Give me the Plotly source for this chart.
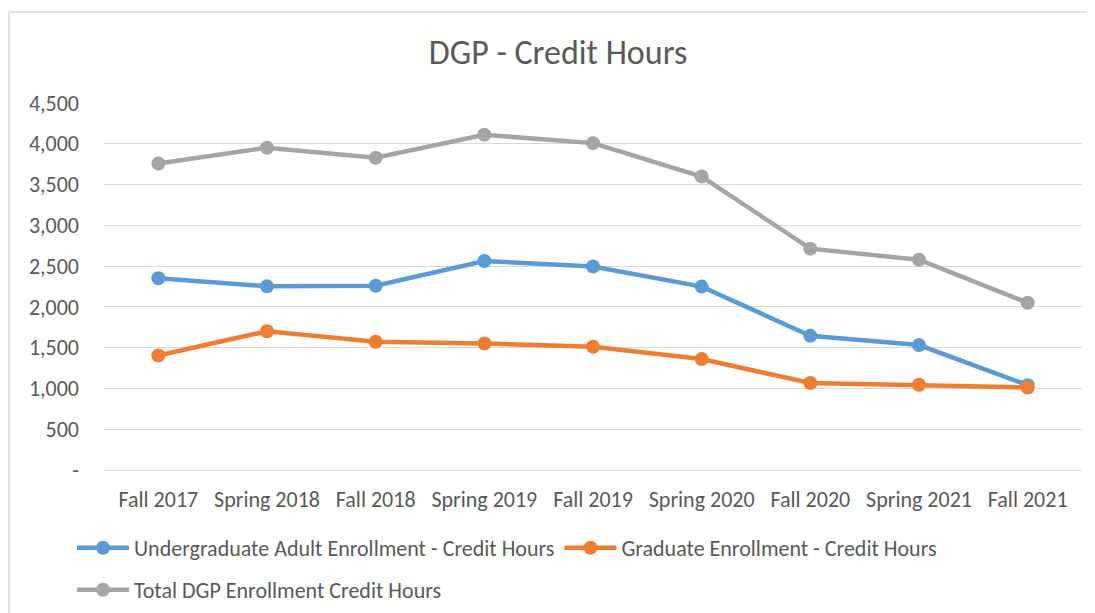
import plotly.graph_objects as go

# 学期
terms = ["Fall 2017", "Spring 2018", "Fall 2018", "Spring 2019", "Fall 2019",
         "Spring 2020", "Fall 2020", "Spring 2021", "Fall 2021"]

# 学时数据
undergrad = [2352, 2252, 2260, 2562, 2495, 2249, 1645, 1532, 1040]
graduate = [1404, 1702, 1572, 1552, 1512, 1360, 1066, 1045, 1011]
total = [3758, 3952, 3828, 4110, 4008, 3598, 2714, 2578, 2050]

series_names = ["Undergraduate Adult Enrollment - Credit Hours",
                "Graduate Enrollment - Credit Hours",
                "Total DGP Enrollment Credit Hours"]

y_tickvals = [0, 500, 1000, 1500, 2000, 2500, 3000, 3500, 4000, 4500]
y_ticktext = ["-", "500", "1,000", "1,500", "2,000", "2,500", "3,000", "3,500", "4,000", "4,500"]

FONT = "Carlito, Lato, sans-serif"
TEXT_COLOR = "#595959"
GRID = "#D9D9D9"

# 页面 body 默认有 8px 边距，所有位置按页面像素换算
OFF = 8
W, H = 1095 - OFF, 613 - OFF
# 绘图区在页面上的位置
PX_L, PX_R, PX_T, PX_B = 104, 1082, 103, 470
L, T = PX_L - OFF, PX_T - OFF
R, B = W - (PX_R - OFF), H - (PX_B - OFF)
pw, ph = PX_R - PX_L, PX_B - PX_T


def px_x(px):
    return (px - PX_L) / pw


def px_y(py):
    return (PX_B - py) / ph


fig = go.Figure()

colors = ["#5B9BD5", "#ED7D31", "#A5A5A5"]
for name, vals, color, lg in zip(series_names, [undergrad, graduate, total], colors,
                                 ["legend", "legend", "legend2"]):
    fig.add_trace(
        go.Scatter(
            x=terms,
            y=vals,
            mode="lines+markers",
            name=name,
            line=dict(color=color, width=4.5),
            marker=dict(color=color, size=14),
            legend=lg,
        )
    )

# 图表外框（左侧与顶部）
fig.add_shape(type="line", xref="paper", yref="paper",
              x0=px_x(9), x1=px_x(9), y0=px_y(12), y1=px_y(640),
              line=dict(color=GRID, width=1.5))
fig.add_shape(type="line", xref="paper", yref="paper",
              x0=px_x(9), x1=px_x(1120), y0=px_y(12), y1=px_y(12),
              line=dict(color=GRID, width=1.5))

legend_style = dict(
    orientation="h",
    xanchor="left",
    yanchor="middle",
    font=dict(family=FONT, size=22, color=TEXT_COLOR),
    bgcolor="rgba(0,0,0,0)",
    itemwidth=52,
)

fig.update_layout(
    width=W,
    height=H,
    margin=dict(l=L, r=R, t=T, b=B, autoexpand=False),
    paper_bgcolor="white",
    plot_bgcolor="white",
    font=dict(family=FONT, color=TEXT_COLOR),
    title=dict(
        text="DGP - Credit Hours",
        x=(558 - OFF) / W,
        xanchor="center",
        y=1 - (52 - OFF) / H,
        yanchor="middle",
        font=dict(family=FONT, size=34, color=TEXT_COLOR),
    ),
    xaxis=dict(
        type="category",
        range=[-0.5, len(terms) - 0.5],
        showgrid=False,
        showline=True,
        linecolor=GRID,
        linewidth=1,
        ticks="",
        ticklabelstandoff=10,
        tickfont=dict(family=FONT, size=22, color=TEXT_COLOR),
    ),
    yaxis=dict(
        range=[0, 4500],
        tickvals=y_tickvals,
        ticktext=y_ticktext,
        showgrid=True,
        gridcolor=GRID,
        gridwidth=1,
        zeroline=False,
        ticks="",
        ticklabelstandoff=24,
        tickfont=dict(family=FONT, size=22, color=TEXT_COLOR),
    ),
    legend=dict(x=px_x(72), y=px_y(548), **legend_style),
    legend2=dict(x=px_x(72), y=px_y(590), **legend_style),
    showlegend=True,
)

fig.write_html("out.html")
